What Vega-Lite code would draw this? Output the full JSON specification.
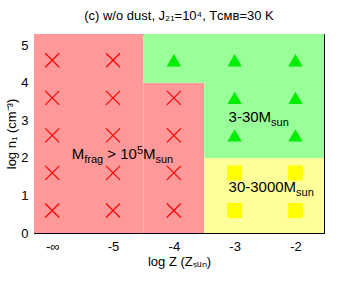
{
  "$schema": "https://vega.github.io/schema/vega-lite/v6.json",
  "width": 290,
  "height": 199,
  "autosize": {"type": "none"},
  "padding": {"left": 34, "top": 34, "right": 21, "bottom": 48},
  "background": "white",
  "config": {
    "font": "Liberation Sans",
    "view": {"stroke": "black", "strokeWidth": 1},
    "axis": {
      "domain": false,
      "grid": false,
      "tickSize": -5,
      "tickColor": "black",
      "tickWidth": 1,
      "labelFontSize": 13,
      "labelColor": "black",
      "labelFont": "Liberation Sans",
      "labelOverlap": false,
      "labelFlush": false,
      "titleFont": "Liberation Sans",
      "titleFontSize": 13,
      "titleFontWeight": "normal",
      "titleColor": "black"
    }
  },
  "title": {
    "text": "(c) w/o dust, J₂₁=10⁴, Tᴄᴍʙ=30 K",
    "fontSize": 13,
    "fontWeight": "normal",
    "font": "Liberation Sans",
    "color": "black",
    "anchor": "middle",
    "baseline": "alphabetic",
    "offset": 1
  },
  "datasets": {
    "regions": [
      {"x": -7, "x2": -4.5, "y": 0, "y2": 6, "region": "frag"},
      {"x": -4.5, "x2": -3.5, "y": 0, "y2": 4, "region": "frag"},
      {"x": -4.5, "x2": -1, "y": 4, "y2": 6, "region": "low"},
      {"x": -3.5, "x2": -1, "y": 2, "y2": 4, "region": "low"},
      {"x": -3.5, "x2": -1, "y": 0, "y2": 2, "region": "mid"}
    ],
    "markers": [
      {"x": -6, "y": 0.6, "type": "cross"},
      {"x": -6, "y": 1.6, "type": "cross"},
      {"x": -6, "y": 2.6, "type": "cross"},
      {"x": -6, "y": 3.6, "type": "cross"},
      {"x": -6, "y": 4.6, "type": "cross"},
      {"x": -5, "y": 0.6, "type": "cross"},
      {"x": -5, "y": 1.6, "type": "cross"},
      {"x": -5, "y": 2.6, "type": "cross"},
      {"x": -5, "y": 3.6, "type": "cross"},
      {"x": -5, "y": 4.6, "type": "cross"},
      {"x": -4, "y": 0.6, "type": "cross"},
      {"x": -4, "y": 1.6, "type": "cross"},
      {"x": -4, "y": 2.6, "type": "cross"},
      {"x": -4, "y": 3.6, "type": "cross"},
      {"x": -4, "y": 4.6, "type": "tri"},
      {"x": -3, "y": 2.6, "type": "tri"},
      {"x": -3, "y": 3.6, "type": "tri"},
      {"x": -3, "y": 4.6, "type": "tri"},
      {"x": -2, "y": 2.6, "type": "tri"},
      {"x": -2, "y": 3.6, "type": "tri"},
      {"x": -2, "y": 4.6, "type": "tri"},
      {"x": -3, "y": 0.6, "type": "sq"},
      {"x": -3, "y": 1.6, "type": "sq"},
      {"x": -2, "y": 0.6, "type": "sq"},
      {"x": -2, "y": 1.6, "type": "sq"}
    ],
    "labels": [
      {"part": "base", "text": "M", "x": -5.68, "y": 1.96},
      {"part": "base", "text": "3-30M", "x": -3.1, "y": 2.95},
      {"part": "base", "text": "30-3000M", "x": -3.1, "y": 1.09},
      {"part": "frag", "text": "frag", "x": -5.68, "y": 1.96},
      {"part": "gt", "text": "> 10", "x": -5.68, "y": 1.96},
      {"part": "sup5", "text": "5", "x": -5.68, "y": 1.96},
      {"part": "M2", "text": "M", "x": -5.68, "y": 1.96},
      {"part": "sunL1", "text": "sun", "x": -5.68, "y": 1.96},
      {"part": "sunL2", "text": "sun", "x": -3.1, "y": 2.95},
      {"part": "sunL3", "text": "sun", "x": -3.1, "y": 1.09}
    ]
  },
  "layer": [
    {
      "layer": [
        {
          "data": {"name": "regions"},
          "mark": {"type": "rect", "clip": true},
          "encoding": {
            "x": {
              "field": "x", "type": "quantitative",
              "scale": {"domain": [-6.3, -1.53], "nice": false, "zero": false},
              "axis": {
                "orient": "bottom",
                "values": [-6, -5, -4, -3, -2],
                "labelExpr": "datum.value == -6 ? '-∞' : '' + datum.value",
                "labelPadding": 12,
                "labelOverlap": false,
                "title": "log Z (Zₛᵤₙ)",
                "titlePadding": 2
              }
            },
            "x2": {"field": "x2"},
            "y": {
              "field": "y", "type": "quantitative",
              "scale": {"domain": [0, 5.3], "nice": false, "zero": false},
              "axis": {
                "orient": "left",
                "values": [0, 1, 2, 3, 4, 5],
                "tickCount": 6,
                "labelExpr": "'' + datum.value",
                "labelPadding": 11,
                "labelOverlap": false,
                "title": "log n₁ (cm⁻³)",
                "titlePadding": 2
              }
            },
            "y2": {"field": "y2"},
            "color": {
              "field": "region", "type": "nominal",
              "scale": {"domain": ["frag", "low", "mid"], "range": ["#ff9999", "#99ff99", "#ffff99"]},
              "legend": null
            }
          }
        },
        {
          "data": {"name": "markers"},
          "transform": [{"filter": "datum.type == 'cross'"}],
          "mark": {"type": "point", "shape": "M-1,-1L1,1M-1,1L1,-1", "filled": false, "color": "#ff0000", "strokeWidth": 1.2, "size": 196, "opacity": 1},
          "encoding": {
            "x": {"field": "x", "type": "quantitative"},
            "y": {"field": "y", "type": "quantitative"}
          }
        },
        {
          "data": {"name": "markers"},
          "transform": [{"filter": "datum.type == 'tri'"}],
          "mark": {"type": "point", "shape": "M0,-0.866L1,0.866L-1,0.866Z", "filled": true, "color": "#00ee00", "size": 204, "opacity": 1},
          "encoding": {
            "x": {"field": "x", "type": "quantitative"},
            "y": {"field": "y", "type": "quantitative"}
          }
        },
        {
          "data": {"name": "markers"},
          "transform": [{"filter": "datum.type == 'sq'"}],
          "mark": {"type": "point", "shape": "square", "filled": true, "color": "#ffff00", "size": 225, "opacity": 1},
          "encoding": {
            "x": {"field": "x", "type": "quantitative"},
            "y": {"field": "y", "type": "quantitative"}
          }
        },
        {
          "data": {"name": "labels"},
          "transform": [{"filter": "datum.part == 'base'"}],
          "mark": {"type": "text", "align": "left", "baseline": "alphabetic", "fontSize": 15, "color": "black", "dx": 0},
          "encoding": {
            "x": {"field": "x", "type": "quantitative"},
            "y": {"field": "y", "type": "quantitative"},
            "text": {"field": "text"}
          }
        },
        {
          "data": {"name": "labels"},
          "transform": [{"filter": "datum.part == 'frag'"}],
          "mark": {"type": "text", "align": "left", "baseline": "alphabetic", "fontSize": 11, "color": "black", "dx": 12.5, "dy": 4},
          "encoding": {
            "x": {"field": "x", "type": "quantitative"},
            "y": {"field": "y", "type": "quantitative"},
            "text": {"field": "text"}
          }
        },
        {
          "data": {"name": "labels"},
          "transform": [{"filter": "datum.part == 'gt'"}],
          "mark": {"type": "text", "align": "left", "baseline": "alphabetic", "fontSize": 15, "color": "black", "dx": 35.6},
          "encoding": {
            "x": {"field": "x", "type": "quantitative"},
            "y": {"field": "y", "type": "quantitative"},
            "text": {"field": "text"}
          }
        },
        {
          "data": {"name": "labels"},
          "transform": [{"filter": "datum.part == 'sup5'"}],
          "mark": {"type": "text", "align": "left", "baseline": "alphabetic", "fontSize": 11, "color": "black", "dx": 65.2, "dy": -5},
          "encoding": {
            "x": {"field": "x", "type": "quantitative"},
            "y": {"field": "y", "type": "quantitative"},
            "text": {"field": "text"}
          }
        },
        {
          "data": {"name": "labels"},
          "transform": [{"filter": "datum.part == 'M2'"}],
          "mark": {"type": "text", "align": "left", "baseline": "alphabetic", "fontSize": 15, "color": "black", "dx": 71.3},
          "encoding": {
            "x": {"field": "x", "type": "quantitative"},
            "y": {"field": "y", "type": "quantitative"},
            "text": {"field": "text"}
          }
        },
        {
          "data": {"name": "labels"},
          "transform": [{"filter": "datum.part == 'sunL1'"}],
          "mark": {"type": "text", "align": "left", "baseline": "alphabetic", "fontSize": 11, "color": "black", "dx": 83.8, "dy": 4},
          "encoding": {
            "x": {"field": "x", "type": "quantitative"},
            "y": {"field": "y", "type": "quantitative"},
            "text": {"field": "text"}
          }
        },
        {
          "data": {"name": "labels"},
          "transform": [{"filter": "datum.part == 'sunL2'"}],
          "mark": {"type": "text", "align": "left", "baseline": "alphabetic", "fontSize": 11, "color": "black", "dx": 42.5, "dy": 4},
          "encoding": {
            "x": {"field": "x", "type": "quantitative"},
            "y": {"field": "y", "type": "quantitative"},
            "text": {"field": "text"}
          }
        },
        {
          "data": {"name": "labels"},
          "transform": [{"filter": "datum.part == 'sunL3'"}],
          "mark": {"type": "text", "align": "left", "baseline": "alphabetic", "fontSize": 11, "color": "black", "dx": 67.5, "dy": 4},
          "encoding": {
            "x": {"field": "x", "type": "quantitative"},
            "y": {"field": "y", "type": "quantitative"},
            "text": {"field": "text"}
          }
        }
      ]
    },
    {
      "data": {"name": "markers"},
      "mark": {"type": "point", "opacity": 0},
      "encoding": {
        "x": {
          "field": "x", "type": "quantitative",
          "axis": {"orient": "top", "values": [-6, -5, -4, -3, -2], "labels": false, "title": null}
        },
        "y": {
          "field": "y", "type": "quantitative",
          "axis": {"orient": "right", "values": [0, 1, 2, 3, 4, 5], "labels": false, "title": null}
        }
      }
    }
  ],
  "resolve": {"axis": {"x": "independent", "y": "independent"}}
}
